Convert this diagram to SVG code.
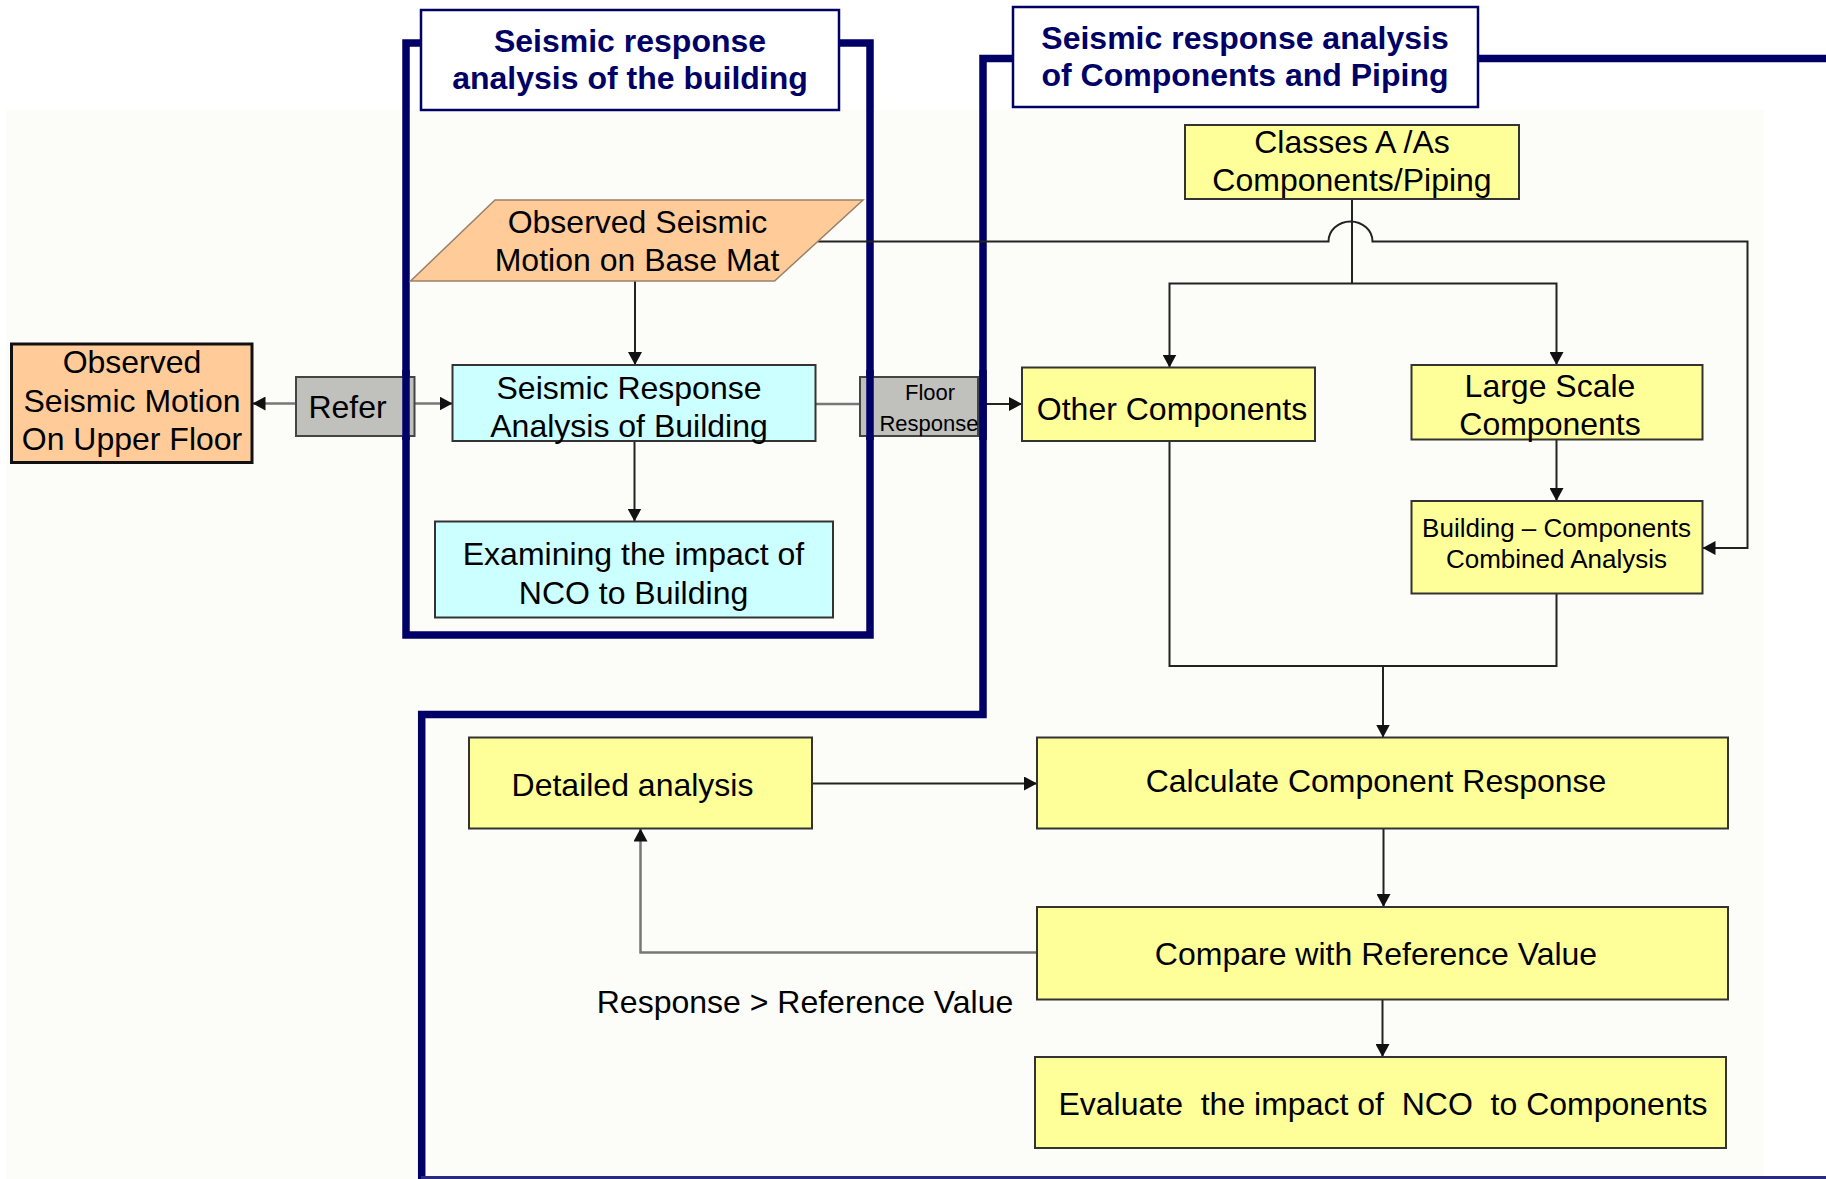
<svg xmlns="http://www.w3.org/2000/svg" width="1826" height="1179" viewBox="0 0 1826 1179">
<defs>
<style>
text{font-family:"Liberation Sans",Arial,sans-serif;font-size:32px;fill:#000;text-anchor:middle}
.title{font-weight:bold;fill:#000066}
.small{font-size:22px}
.mid{font-size:26px}
.yel{fill:#ffff99;stroke:#333;stroke-width:2}
.cyan{fill:#ccffff;stroke:#333;stroke-width:2}
.peach{fill:#ffcc99}
.gray{fill:#c0c0bc;stroke:#444;stroke-width:2}
.tbox{fill:#fff;stroke:#000066;stroke-width:2.5}
.frame{fill:none;stroke:#000066;stroke-width:7.5}
.conn path{fill:none;stroke:#222;stroke-width:2}
.conn path.g{stroke:#777;stroke-width:2.5}
</style>
<marker id="ah" markerUnits="userSpaceOnUse" markerWidth="13" markerHeight="14" refX="13" refY="7" orient="auto">
<path d="M0,0 L13,7 L0,14 z" fill="#111"/>
</marker>
</defs>
<rect x="0" y="0" width="1826" height="1179" fill="#fff"/>
<rect x="6" y="110" width="1758" height="1069" fill="#fcfcf9"/>

<g id="frames">
<rect class="frame" x="406" y="43" width="464" height="592"/>
<path class="frame" d="M1826 58.5 H983 V714.5 H421.7 V1180"/>
<path d="M421 1177.5 H1826" stroke="#2a2a80" stroke-width="3" fill="none"/>
</g>

<g id="title-building">
<rect class="tbox" x="421" y="10" width="418" height="100"/>
<text class="title" x="630" y="52">Seismic response</text>
<text class="title" x="630" y="89">analysis of the building</text>
</g>
<g id="title-components">
<rect class="tbox" x="1013" y="7" width="465" height="100"/>
<text class="title" x="1245" y="49">Seismic response analysis</text>
<text class="title" x="1245" y="86">of Components and Piping</text>
</g>

<g class="conn" id="connectors">
<path d="M635 281 V365" marker-end="url(#ah)"/>
<path d="M634.5 441 V521.5" marker-end="url(#ah)"/>
<path class="g" d="M296 403.5 H252.5" marker-end="url(#ah)"/>
<path class="g" d="M414.5 403.5 H452.5" marker-end="url(#ah)"/>
<path class="g" d="M815.5 404 H860"/>
<path d="M978 404 H1022" marker-end="url(#ah)"/>
<path d="M818 241.5 H1328.5 A22 20 0 0 1 1372.5 241.5 H1747.5 V548 H1702.5" marker-end="url(#ah)"/>
<path d="M1352 199 V283.5"/>
<path d="M1352 283.5 H1169.5 V367.5" marker-end="url(#ah)"/>
<path d="M1352 283.5 H1556.5 V365" marker-end="url(#ah)"/>
<path d="M1556.5 439.5 V501" marker-end="url(#ah)"/>
<path d="M1169.5 441 V666 H1556.5 V593.5"/>
<path d="M1383 666 V737.5" marker-end="url(#ah)"/>
<path d="M812 783.5 H1037" marker-end="url(#ah)"/>
<path d="M1383.5 828.5 V907" marker-end="url(#ah)"/>
<path d="M1382.5 999.5 V1057" marker-end="url(#ah)"/>
<path class="g" d="M1037 952.5 H640.5 V828.5" marker-end="url(#ah)"/>
</g>

<g id="upper-floor">
<rect class="peach" x="11.5" y="344" width="240.5" height="118.5" stroke="#111" stroke-width="3"/>
<text x="132" y="373">Observed</text>
<text x="132" y="411.5">Seismic Motion</text>
<text x="132" y="450">On Upper Floor</text>
</g>
<g id="refer">
<rect class="gray" x="296" y="377" width="118.5" height="59"/>
<text x="347.5" y="418">Refer</text>
</g>
<g id="base-mat">
<polygon class="peach" points="495,200 863,200 774.6,281 410.6,281" stroke="#9a8068" stroke-width="1.5"/>
<text x="637.5" y="233">Observed Seismic</text>
<text x="637" y="271">Motion on Base Mat</text>
</g>
<g id="sra-building">
<rect class="cyan" x="452.5" y="365" width="363" height="76"/>
<text x="629" y="399">Seismic Response</text>
<text x="629" y="437">Analysis of Building</text>
</g>
<g id="examining">
<rect class="cyan" x="435" y="521.5" width="398" height="96"/>
<text x="633.5" y="565">Examining the impact of</text>
<text x="633.5" y="604">NCO to Building</text>
</g>
<g id="floor-response">
<rect class="gray" x="860" y="377" width="118" height="59"/>
<text class="small" x="930" y="400">Floor</text>
<text class="small" x="929" y="431">Response</text>
</g>

<!-- navy frame lines drawn over grey boxes -->
<g id="frame-overlay">
<path d="M406 370 V440" stroke="#000066" stroke-width="7.5"/>
<path d="M870 370 V440" stroke="#000066" stroke-width="7.5"/>
<path d="M983 370 V440" stroke="#000066" stroke-width="7.5"/>
</g>

<g id="classes">
<rect class="yel" x="1185" y="125" width="334" height="74"/>
<text x="1352" y="153">Classes A /As</text>
<text x="1352" y="191">Components/Piping</text>
</g>
<g id="other-components">
<rect class="yel" x="1022" y="367.5" width="293" height="73.5"/>
<text x="1172" y="420">Other Components</text>
</g>
<g id="large-scale">
<rect class="yel" x="1411.5" y="365" width="291" height="74.5"/>
<text x="1550" y="397">Large Scale</text>
<text x="1550" y="435">Components</text>
</g>
<g id="combined-analysis">
<rect class="yel" x="1411.5" y="501" width="291" height="92.5"/>
<text class="mid" x="1556.5" y="537">Building – Components</text>
<text class="mid" x="1556.5" y="568">Combined Analysis</text>
</g>
<g id="calculate">
<rect class="yel" x="1037" y="737.5" width="691" height="91"/>
<text x="1376" y="792">Calculate Component Response</text>
</g>
<g id="compare">
<rect class="yel" x="1037" y="907" width="691" height="92.5"/>
<text x="1376" y="965">Compare with Reference Value</text>
</g>
<g id="evaluate">
<rect class="yel" x="1035" y="1057" width="691" height="91"/>
<text x="1383" y="1115" style="white-space:pre">Evaluate  the impact of  NCO  to Components</text>
</g>
<g id="detailed">
<rect class="yel" x="469" y="737.5" width="343" height="91"/>
<text x="632.5" y="796">Detailed analysis</text>
</g>
<g id="label">
<text x="805" y="1013">Response &gt; Reference Value</text>
</g>
</svg>
